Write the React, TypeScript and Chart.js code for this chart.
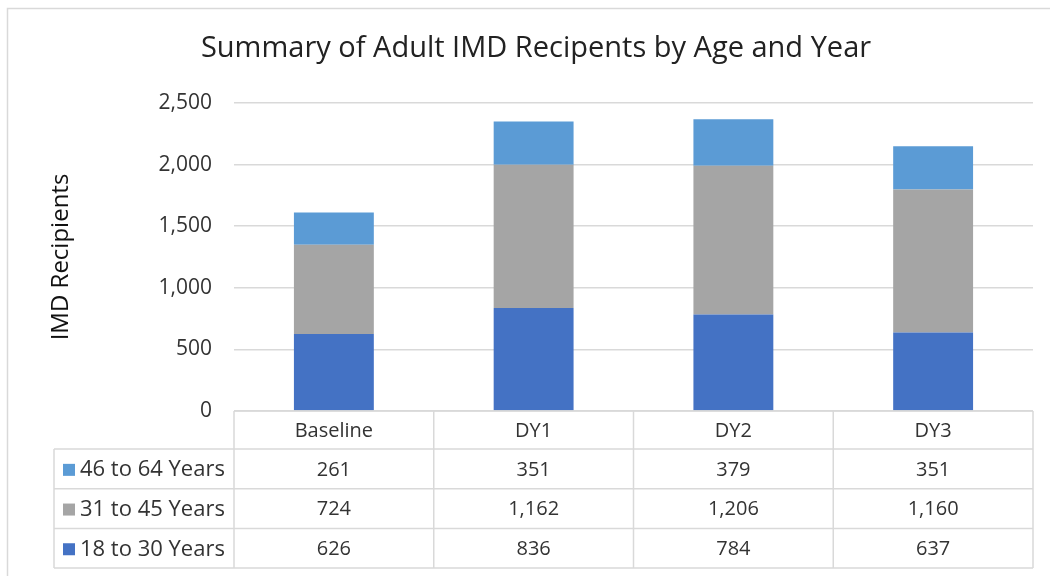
import { useEffect, useRef } from "react";
import { Chart, registerables } from "chart.js";

Chart.register(...registerables);

const title = "Summary of Adult IMD Recipents by Age and Year";
const yAxisTitle = "IMD Recipients";
const categories = ["Baseline", "DY1", "DY2", "DY3"];
const seriesNames = ["18 to 30 Years", "31 to 45 Years", "46 to 64 Years"];
const age18to30 = [626, 836, 784, 637];
const age31to45 = [724, 1162, 1206, 1160];
const age46to64 = [261, 351, 379, 351];
const seriesColors = ["#4472C4", "#A5A5A5", "#5B9BD5"];
const yTicks = [0, 500, 1000, 1500, 2000, 2500];

const FONT = "'Open Sans', Carlito, Calibri, sans-serif";
const TEXT = "#333333";
const LINE = "#D9D9D9";

const fmt = (v: number) => v.toLocaleString("en-US");

const tablePlugin = {
  id: "dataTable",
  afterDraw(chart: any) {
    const ctx = chart.ctx;
    const xs = chart.scales.x;
    const area = chart.chartArea;
    const n = categories.length;
    const colW = xs.getPixelForValue(1) - xs.getPixelForValue(0);
    const colLeft = (i: number) => xs.getPixelForValue(i) - colW / 2;
    const left0 = colLeft(0);
    const right = colLeft(n - 1) + colW;
    const labelLeft = 54;
    const headerTop = area.bottom;
    const headerH = 38;
    const rowH = 39.7;
    const rowsTop = headerTop + headerH;
    const nRows = seriesNames.length;
    const bottom = rowsTop + rowH * nRows;

    ctx.save();
    // chart title
    ctx.fillStyle = "#222222";
    ctx.font = `29px ${FONT}`;
    ctx.textAlign = "center";
    ctx.textBaseline = "middle";
    ctx.fillText(title, 536, 49);

    ctx.strokeStyle = LINE;
    ctx.lineWidth = 1.5;
    ctx.strokeRect(7.5, 8.5, 1200, 700);

    ctx.beginPath();
    ctx.moveTo(left0, headerTop);
    ctx.lineTo(right, headerTop);
    for (let r = 0; r <= nRows; r++) {
      const y = rowsTop + rowH * r;
      ctx.moveTo(labelLeft, y);
      ctx.lineTo(right, y);
    }
    for (let i = 0; i <= n; i++) {
      const x = i === n ? right : colLeft(i);
      ctx.moveTo(x, headerTop);
      ctx.lineTo(x, bottom);
    }
    ctx.moveTo(labelLeft, rowsTop);
    ctx.lineTo(labelLeft, bottom);
    ctx.stroke();

    ctx.fillStyle = TEXT;
    ctx.font = `20px ${FONT}`;
    ctx.textAlign = "center";
    ctx.textBaseline = "middle";
    categories.forEach((c, i) => {
      ctx.fillText(c, xs.getPixelForValue(i), headerTop + headerH / 2 + 1);
    });

    const ds = chart.data.datasets;
    for (let r = 0; r < nRows; r++) {
      const d = ds[nRows - 1 - r];
      const cy = rowsTop + rowH * r + rowH / 2 + 1;
      ctx.fillStyle = d.backgroundColor;
      ctx.fillRect(63, cy - 6, 12, 12);
      ctx.fillStyle = TEXT;
      ctx.textAlign = "left";
      ctx.font = `22px ${FONT}`;
      ctx.fillText(d.label, 80, cy);
      ctx.textAlign = "center";
      ctx.font = `20px ${FONT}`;
      (d.data as number[]).forEach((v, i) => {
        ctx.fillText(fmt(v), xs.getPixelForValue(i), cy);
      });
    }
    ctx.restore();
  },
};

export default function App() {
  const ref = useRef<HTMLCanvasElement>(null);
  useEffect(() => {
    const chart = new Chart(ref.current!, {
      type: "bar",
      data: {
        labels: categories,
        datasets: [
          { label: seriesNames[0], data: age18to30, backgroundColor: seriesColors[0] },
          { label: seriesNames[1], data: age31to45, backgroundColor: seriesColors[1] },
          { label: seriesNames[2], data: age46to64, backgroundColor: seriesColors[2] },
        ],
      },
      options: {
        responsive: false,
        animation: false,
        datasets: { bar: { barPercentage: 0.4, categoryPercentage: 1 } },
        layout: { padding: { left: 8, right: 17, top: 103, bottom: 165 } },
        plugins: {
          legend: { display: false },
          tooltip: { enabled: false },
          title: { display: false },
        },
        scales: {
          x: { stacked: true, display: false },
          y: {
            stacked: true,
            min: 0,
            max: 2500,
            afterBuildTicks: (s: any) => {
              s.ticks = yTicks.map((v) => ({ value: v }));
            },
            afterFit: (s: any) => {
              s.width = 226;
            },
            ticks: {
              padding: 22,
              color: TEXT,
              font: { family: FONT, size: 21 },
              callback: (v: any) => fmt(Number(v)),
            },
            grid: { color: LINE, lineWidth: 1.5, drawTicks: false },
            border: { display: false },
            title: {
              display: true,
              text: yAxisTitle,
              color: "#111111",
              font: { family: FONT, size: 24 },
              padding: { top: 39, bottom: 0 },
            },
          },
        },
      },
      plugins: [tablePlugin],
    });
    return () => chart.destroy();
  }, []);
  return (
    <div style={{ position: "absolute", left: 0, top: 0, width: 1050, height: 576 }}>
      <canvas ref={ref} width={1050} height={576} style={{ width: 1050, height: 576 }} />
    </div>
  );
}
